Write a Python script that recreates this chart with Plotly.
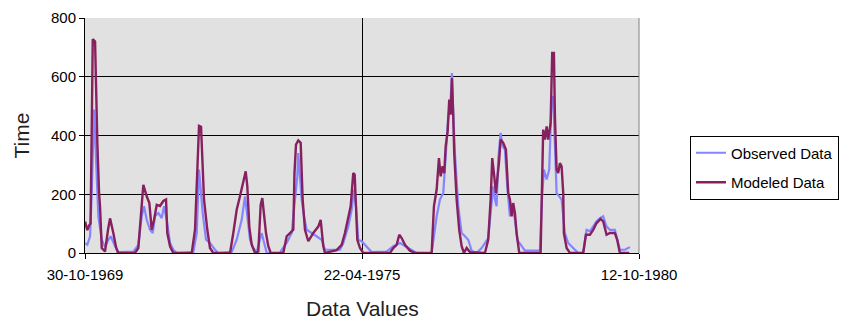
import plotly.graph_objects as go

# Decimal-year time stamps and values
obs_t = [1969.830, 1969.875, 1969.929, 1969.962, 1970.008, 1970.034, 1970.061, 1970.093, 1970.160, 1970.225,
         1970.290, 1970.338, 1970.423, 1970.488, 1970.785, 1970.883, 1970.951, 1970.996, 1971.049, 1971.115,
         1971.168, 1971.213, 1971.279, 1971.346, 1971.391, 1971.445, 1971.510, 1971.575, 1971.642, 1971.970,
         1972.038, 1972.083, 1972.117, 1972.156, 1972.221, 1972.300, 1972.399, 1972.464, 1972.729, 1972.828,
         1972.927, 1972.992, 1973.038, 1973.091, 1973.156, 1973.223, 1973.322, 1973.354, 1973.421, 1973.684,
         1973.717, 1973.816, 1973.915, 1973.980, 1974.026, 1974.045, 1974.079, 1974.113, 1974.158, 1974.211,
         1974.310, 1974.409, 1974.508, 1974.573, 1974.870, 1974.935, 1975.034, 1975.101, 1975.146, 1975.186,
         1975.231, 1975.298, 1975.397, 1975.496, 1975.792, 1975.923, 1976.055, 1976.154, 1976.287, 1976.385,
         1976.682, 1976.713, 1976.781, 1976.846, 1976.911, 1976.964, 1977.010, 1977.057, 1977.083, 1977.109,
         1977.142, 1977.208, 1977.275, 1977.340, 1977.405, 1977.472, 1977.571, 1977.670, 1977.735, 1977.800,
         1977.848, 1977.899, 1977.933, 1977.966, 1977.998, 1978.045, 1978.085, 1978.130, 1978.176, 1978.229,
         1978.275, 1978.328, 1978.374, 1978.441, 1978.526, 1978.822, 1978.862, 1978.901, 1978.955, 1979.006,
         1979.053, 1979.085, 1979.119, 1979.152, 1979.204, 1979.251, 1979.316, 1979.381, 1979.480, 1979.579,
         1979.678, 1979.745, 1979.810, 1979.875, 1979.943, 1980.008, 1980.073, 1980.140, 1980.206, 1980.304,
         1980.350, 1980.403, 1980.502, 1980.601]
obs_v = [34, 28, 57, 204, 488, 375, 227, 125, 45, 20,
         45, 57, 23, 3, 5, 28, 125, 159, 113, 79,
         68, 125, 136, 119, 159, 113, 34, 11, 0, 3,
         68, 284, 216, 136, 45, 34, 11, 0, 3, 45,
         113, 193, 125, 45, 17, 3, 68, 45, 0, 0,
         11, 34, 68, 182, 261, 340, 261, 182, 125, 79,
         68, 57, 45, 11, 11, 34, 90, 147, 216, 159,
         45, 40, 23, 3, 5, 23, 34, 23, 11, 0,
         0, 45, 125, 182, 204, 340, 465, 522, 613, 477,
         340, 159, 68, 57, 45, 8, 0, 17, 34, 51,
         136, 227, 182, 159, 318, 409, 363, 352, 227, 125,
         170, 113, 45, 28, 8, 8, 182, 284, 250, 284,
         522, 534, 352, 204, 193, 182, 68, 34, 17, 0,
         0, 79, 74, 90, 108, 119, 125, 90, 79, 79,
         45, 11, 11, 20]

mod_t = [1969.830, 1969.875, 1969.915, 1969.939, 1969.968, 1969.982, 1970.028, 1970.047, 1970.073, 1970.107,
         1970.126, 1970.160, 1970.225, 1970.285, 1970.324, 1970.389, 1970.443, 1970.482, 1970.818, 1970.883,
         1970.951, 1970.982, 1971.049, 1971.101, 1971.148, 1971.194, 1971.247, 1971.312, 1971.377, 1971.431,
         1971.456, 1971.510, 1971.575, 1971.939, 1972.004, 1972.049, 1972.083, 1972.123, 1972.142, 1972.182,
         1972.247, 1972.300, 1972.366, 1972.696, 1972.761, 1972.828, 1972.893, 1972.958, 1973.006, 1973.038,
         1973.077, 1973.124, 1973.190, 1973.255, 1973.302, 1973.334, 1973.368, 1973.407, 1973.453, 1973.500,
         1973.749, 1973.816, 1973.881, 1973.947, 1973.970, 1974.000, 1974.045, 1974.093, 1974.132, 1974.178,
         1974.243, 1974.342, 1974.441, 1974.488, 1974.540, 1974.573, 1974.804, 1974.903, 1974.968, 1975.034,
         1975.081, 1975.132, 1975.160, 1975.186, 1975.212, 1975.265, 1975.330, 1975.858, 1975.923, 1975.990,
         1976.042, 1976.089, 1976.154, 1976.253, 1976.352, 1976.682, 1976.727, 1976.781, 1976.826, 1976.860,
         1976.899, 1976.931, 1976.959, 1976.998, 1977.030, 1977.057, 1977.083, 1977.109, 1977.128, 1977.176,
         1977.227, 1977.275, 1977.320, 1977.374, 1977.439, 1977.735, 1977.800, 1977.848, 1977.880, 1977.913,
         1977.953, 1977.978, 1978.012, 1978.045, 1978.097, 1978.150, 1978.196, 1978.229, 1978.263, 1978.295,
         1978.328, 1978.362, 1978.413, 1978.836, 1978.856, 1978.887, 1978.921, 1978.955, 1978.986, 1979.034,
         1979.065, 1979.099, 1979.119, 1979.152, 1979.184, 1979.217, 1979.251, 1979.283, 1979.296, 1979.350,
         1979.415, 1979.678, 1979.731, 1979.810, 1979.875, 1979.943, 1980.022, 1980.073, 1980.140, 1980.206,
         1980.304, 1980.350, 1980.403, 1980.587]
mod_v = [107, 78, 95, 100, 510, 728, 720, 545, 375, 204,
         160, 17, 5, 80, 118, 68, 20, 0, 0, 17,
         182, 232, 193, 170, 79, 113, 164, 160, 177, 182,
         68, 23, 0, 0, 79, 318, 433, 430, 341, 182,
         79, 17, 0, 0, 68, 147, 193, 244, 278, 227,
         90, 28, 0, 5, 164, 187, 125, 68, 23, 0,
         0, 57, 68, 79, 272, 369, 383, 375, 182, 79,
         40, 68, 90, 113, 23, 0, 10, 28, 68, 125,
         159, 272, 267, 159, 45, 17, 0, 0, 17, 28,
         62, 51, 28, 8, 0, 0, 159, 216, 323, 261,
         295, 272, 363, 414, 522, 471, 596, 465, 340, 182,
         79, 23, 0, 17, 3, 0, 45, 182, 323, 272,
         204, 250, 306, 386, 375, 352, 204, 182, 125, 170,
         136, 68, 0, 0, 182, 420, 386, 431, 386, 443,
         681, 681, 465, 284, 272, 306, 295, 204, 68, 17,
         0, 0, 62, 62, 79, 102, 116, 108, 62, 68,
         68, 45, 0, 0]

tick_vals = [1969.829, 1975.305, 1980.781]
tick_text = ["30-10-1969", "22-04-1975", "12-10-1980"]
y_ticks = [0, 200, 400, 600, 800]
x_title = "Data Values"
y_title = "Time"

font_family = "Liberation Sans, Arial, sans-serif"

fig = go.Figure()
fig.add_trace(go.Scatter(x=obs_t, y=obs_v, mode="lines", name="Observed Data", legendgroup="a",
                         line=dict(color="#8585FF", width=2.2)))
fig.add_trace(go.Scatter(x=mod_t, y=mod_v, mode="lines", name="Modeled Data", legendgroup="b",
                         line=dict(color="#86205E", width=2.4)))

fig.update_layout(
    width=856, height=321,
    margin=dict(l=85, r=217, t=18, b=68),
    paper_bgcolor="white",
    plot_bgcolor="#E1E1E1",
    font=dict(family=font_family, size=15, color="black"),
    showlegend=True,
    legend=dict(x=1.092, y=0.5, xanchor="left", yanchor="top",
                bordercolor="black", borderwidth=1, bgcolor="white",
                traceorder="grouped", tracegroupgap=7,
                font=dict(size=15, family=font_family)),
    xaxis=dict(range=[1969.829, 1980.781], tickmode="array", tickvals=tick_vals, ticktext=tick_text,
               showgrid=True, gridcolor="black", gridwidth=1, zeroline=False,
               showline=True, linecolor="black", linewidth=1,
               ticks="outside", ticklen=5, tickcolor="black", ticklabelstandoff=3,
               tickfont=dict(size=15), automargin=False),
    yaxis=dict(range=[0, 800], tickmode="array", tickvals=y_ticks,
               showgrid=True, gridcolor="black", gridwidth=1, zeroline=False,
               showline=True, linecolor="black", linewidth=1,
               ticks="outside", ticklen=5, tickcolor="black",
               tickfont=dict(size=15), automargin=False),
)
fig.add_annotation(text=x_title, xref="paper", yref="paper", x=0.5, y=-0.238,
                   xanchor="center", yanchor="middle", showarrow=False,
                   font=dict(size=21, color="#222222"))
fig.add_annotation(text=y_title, xref="paper", yref="paper", x=-0.1155, y=0.5,
                   xanchor="center", yanchor="middle", textangle=-90, showarrow=False,
                   font=dict(size=21, color="#222222"))
fig.add_shape(type="line", xref="paper", yref="paper", x0=1, x1=1, y0=0, y1=1,
              line=dict(color="#808080", width=1))

fig.write_html("out.html")
